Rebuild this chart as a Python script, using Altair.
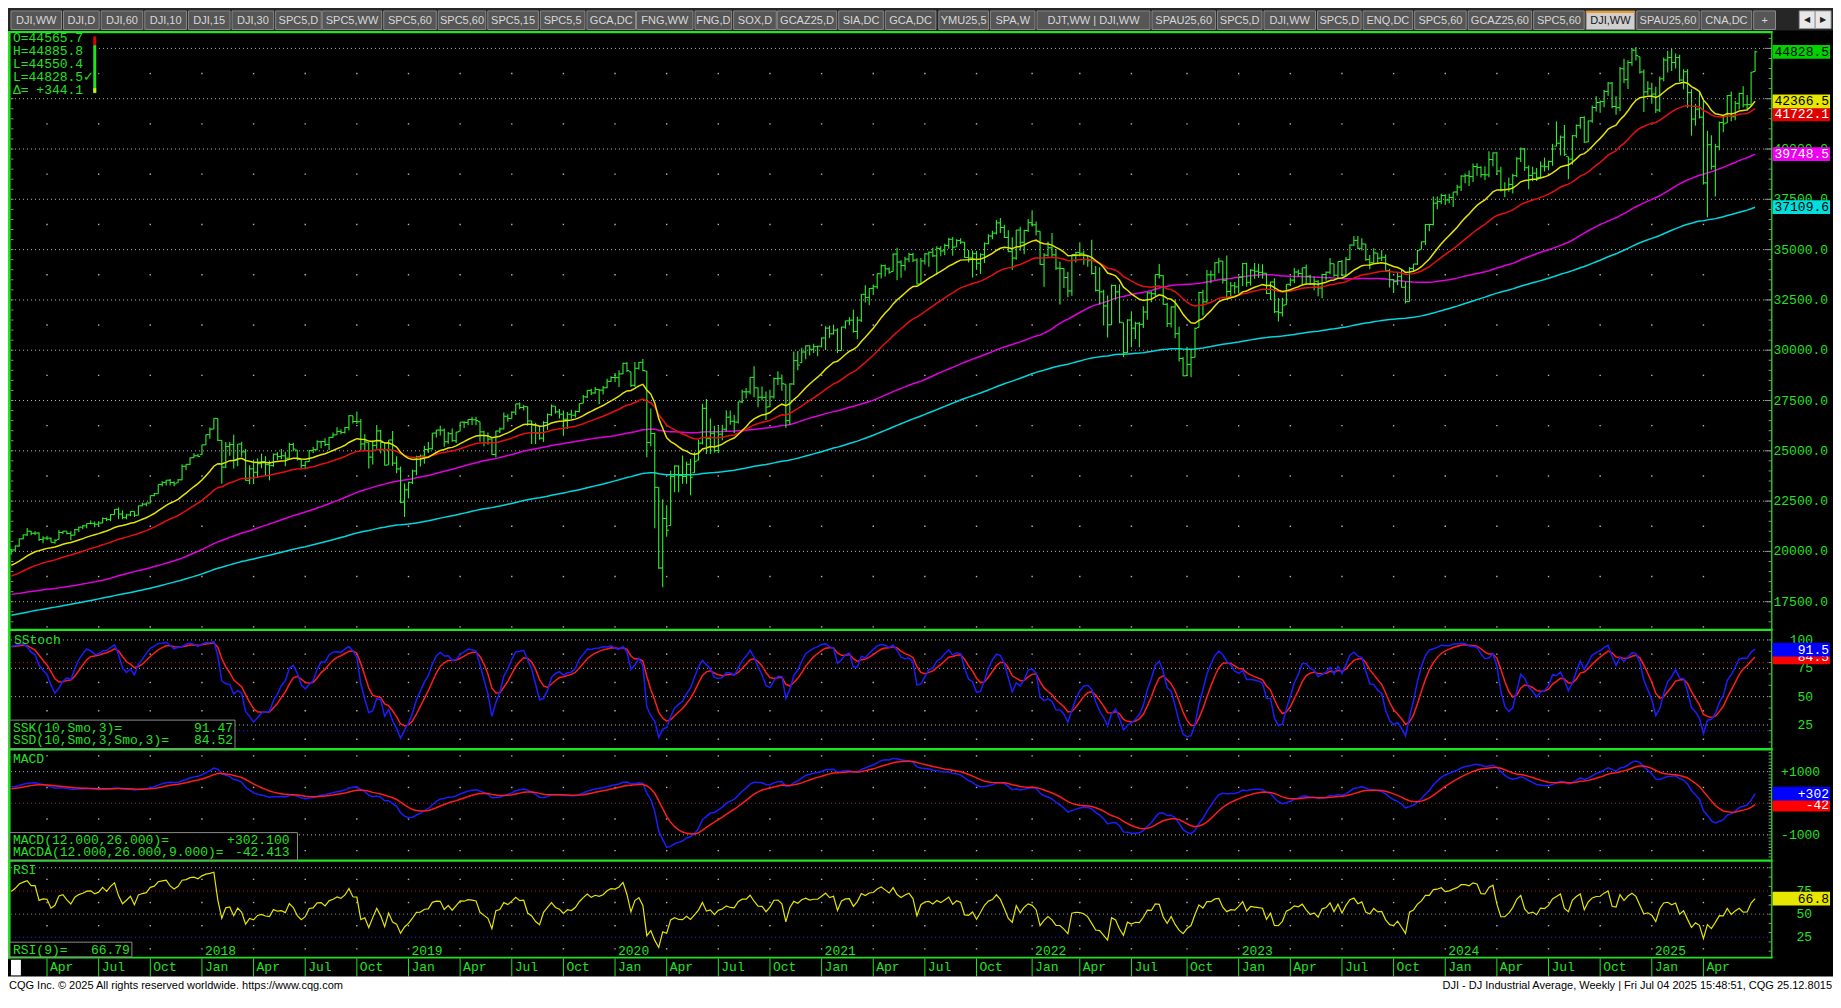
import altair as alt
import numpy as np
import pandas as pd

# =====================================================================
# DATA  (DJI weekly bars; values in index points)
# =====================================================================
# weekly closes before the first visible bar (only used to warm up averages)
PRE_START = "2015-01-02"
PRE_CLOSE = [
    17833, 17737, 17512, 17673, 17165, 17824, 18019, 18140, 18133, 17857, 17750, 18128, 17713,
    17763, 18058, 17826, 18080, 18024, 18191, 18272, 18232, 18011, 17849, 17899, 18016, 17947,
    17730, 17760, 18086, 17569, 17690, 17373, 17477, 16460, 16643, 16102, 16433, 16385, 16315,
    16472, 17084, 17216, 17647, 17664, 17910, 17245, 17824, 17798, 17848, 17265, 17128, 17552,
    17425, 16347, 15988, 16094, 16466, 16205, 15974, 16392, 16640, 17007, 17214, 17602, 17516,
    17793, 17577, 17898, 18004, 17774, 17740, 17535, 17501, 17873, 17807, 17866, 17675, 17400,
    17949, 18147, 18517, 18571, 18432, 18544, 18576, 18553, 18395, 18492, 18085, 18124, 18262,
    18308, 18240, 18138, 18146, 18161, 17888]

OHLC_START = "2016-11-11"
CLOSE_2016 = [18848, 18868, 19152, 19171, 19757, 19843, 19934, 19763]
HIGH_2016 = [18934, 18935, 19153, 19226, 19757, 19987, 19974, 19987]
LOW_2016 = [17884, 18771, 18870, 18972, 19167, 19712, 19843, 19719]

CLOSE_2017 = [19964, 19885, 19827, 20094, 20071, 20269, 20624, 20822, 21006, 20903, 20915, 20597, 20663,
              20656, 20453, 20548, 20941, 21007, 20897, 20805, 21080, 21206, 21272, 21384, 21395, 21350,
              21414, 21638, 21580, 21830, 22092, 21858, 21675, 21814, 21988, 21798, 22268, 22350, 22405,
              22773, 22871, 23329, 23434, 23539, 23422, 23358, 23558, 24231, 24329, 24652, 24754, 24719]
HIGH_2017 = [19999, 19974, 19893, 20126, 20125, 20298, 20639, 20840, 21169, 21017, 21001, 20940, 20757,
             20777, 20686, 20609, 21070, 21015, 21008, 21000, 21113, 21225, 21305, 21391, 21536, 21485,
             21500, 21682, 21681, 21843, 22092, 22179, 22040, 21872, 22000, 21990, 22275, 22419, 22416,
             22777, 22905, 23329, 23485, 23550, 23602, 23486, 23602, 24328, 24330, 24668, 24876, 24837]
LOW_2017 = [19775, 19769, 19732, 19731, 19831, 20020, 20237, 20603, 20764, 20803, 20812, 20518, 20412,
            20552, 20453, 20379, 20596, 20862, 20835, 20554, 20808, 20970, 21113, 21154, 21348, 21197,
            21279, 21394, 21510, 21500, 21831, 21600, 21600, 21600, 21753, 21709, 21800, 22241, 22240,
            22398, 22739, 22860, 23229, 23277, 23272, 23242, 23409, 23541, 24048, 24290, 24661, 24719]

CLOSE_2018 = [25296, 25803, 26072, 26617, 25521, 24191, 25220, 25310, 24538, 25336, 24947, 23533, 24103,
              23933, 24360, 24463, 24311, 24263, 24831, 24715, 24753, 24635, 25317, 25090, 24581, 24271,
              24456, 25019, 25058, 25451, 25463, 25313, 25669, 25790, 25965, 25917, 26155, 26744, 26458,
              26447, 25340, 25444, 24688, 25271, 25989, 25413, 24286, 25538, 24389, 24100, 22445, 23062]
HIGH_2018 = [25299, 25804, 26154, 26617, 26608, 25520, 25433, 25432, 25800, 25336, 25449, 25095, 24277,
             24562, 24622, 24858, 24736, 24511, 24869, 24925, 25086, 24950, 25402, 25402, 25040, 24580,
             24466, 25030, 25186, 25529, 25471, 25629, 25686, 25910, 26167, 26072, 26187, 26769, 26744,
             26951, 26587, 25829, 25419, 25531, 26277, 26036, 25412, 25539, 25980, 24730, 24220, 23382]
LOW_2018 = [24809, 25287, 25602, 26082, 25490, 23360, 24130, 24754, 24118, 24232, 24706, 23509, 23344,
            23345, 23649, 24131, 23778, 23531, 24203, 24535, 24577, 24227, 24627, 24983, 24524, 24084,
            24079, 24461, 24887, 25026, 25122, 25238, 25035, 25649, 25798, 25822, 25866, 26005, 26357,
            26338, 25042, 25044, 24123, 24320, 25104, 24872, 24268, 24302, 24242, 23881, 22397, 21713]

CLOSE_2019 = [23433, 23996, 24706, 24737, 25064, 25106, 25883, 26031, 26026, 25450, 25849, 25502, 25929,
              26425, 26412, 26559, 26543, 26505, 25942, 25764, 25586, 24815, 25984, 26090, 26719, 26600,
              26922, 27332, 27154, 27192, 26485, 26287, 25886, 25629, 26403, 26797, 27220, 26935, 26820,
              26573, 26817, 26770, 26958, 27347, 27681, 28005, 27876, 28051, 28015, 28135, 28455, 28645]
HIGH_2019 = [23466, 24061, 24750, 24816, 25250, 25439, 25887, 26052, 26242, 26110, 25940, 26109, 25949,
             26425, 26467, 26565, 26696, 26695, 26450, 26000, 25905, 25610, 26001, 26160, 26907, 26820,
             26966, 27333, 27398, 27278, 27198, 26500, 26400, 26219, 26479, 26859, 27306, 27218, 27080,
             27000, 26935, 27040, 27001, 27348, 27775, 28005, 28090, 28175, 28070, 28224, 28582, 28701]
LOW_2019 = [22638, 23347, 23781, 24218, 24356, 24886, 25057, 25656, 25764, 25208, 25350, 25452, 25383,
            25968, 26139, 26266, 26287, 26271, 25450, 25222, 25307, 24802, 24680, 25887, 26064, 26440,
            26597, 26780, 27061, 27003, 26249, 25339, 25339, 25550, 25440, 26039, 26725, 26849, 26600,
            25743, 26078, 26590, 26660, 26899, 27369, 27625, 27778, 27835, 27325, 27795, 28111, 28428]

CLOSE_2020 = [28634, 28823, 29348, 28990, 28256, 29102, 29398, 28992, 25409, 25864, 23186, 19174, 21637,
              21053, 23720, 24242, 23775, 23724, 24331, 23685, 24465, 25383, 27111, 25606, 25871, 25016,
              25827, 26075, 26672, 26470, 26428, 27433, 27931, 27930, 28654, 28133, 27666, 27657, 27174,
              27683, 28587, 28606, 28336, 26502, 28323, 29480, 29263, 29910, 30218, 30046, 30179, 30200]
HIGH_2020 = [28873, 29009, 29373, 29407, 28930, 29408, 29416, 29568, 28962, 27102, 25897, 23185, 22595,
             22294, 24008, 24283, 24264, 24765, 24460, 24602, 24933, 25559, 27338, 27580, 26611, 26248,
             26204, 26291, 27017, 27009, 26776, 27438, 28030, 28121, 28655, 29199, 28130, 28195, 27942,
             28041, 28638, 28958, 28787, 28313, 28354, 29933, 29962, 30117, 30233, 30241, 30326, 30225]
LOW_2020 = [28419, 28174, 28810, 28917, 28170, 28169, 29046, 28951, 24681, 25226, 21154, 19139, 18214,
            20735, 21285, 22942, 22941, 23358, 23362, 22790, 23910, 24536, 25314, 24844, 24843, 24910,
            24878, 25523, 25954, 26299, 25880, 26353, 27360, 27603, 27813, 27665, 27164, 27507, 26537,
            27190, 27604, 28274, 27989, 26143, 26277, 28276, 29008, 29380, 29557, 29740, 29863, 29700]

CLOSE_2021 = [30606, 31098, 30814, 30997, 29983, 31148, 31458, 31494, 30932, 31496, 32779, 32628, 33073,
              33153, 33801, 34200, 34043, 33875, 34778, 34382, 34208, 34529, 34756, 34480, 33290, 34434,
              34786, 34870, 34688, 35062, 34935, 35209, 35515, 35120, 35456, 35369, 34608, 34584, 34798,
              34326, 34746, 35295, 35677, 35820, 36328, 36100, 35602, 34899, 34580, 35971, 35365, 35950,
              36338]
HIGH_2021 = [30637, 31194, 31223, 31272, 31088, 31170, 31470, 31644, 32010, 31668, 32793, 33227, 33097,
             33262, 33810, 34256, 34262, 34111, 34811, 35092, 34465, 34631, 34849, 34849, 34576, 34581,
             34823, 34900, 35091, 35172, 35171, 35289, 35579, 35631, 35510, 35565, 35380, 34978, 34950,
             34935, 34828, 35356, 35765, 35933, 36472, 36565, 36232, 35967, 35618, 35978, 36134, 35987,
             36527]
LOW_2021 = [30136, 30016, 30613, 30778, 29857, 29985, 31061, 31235, 30869, 30547, 31403, 32367, 32240,
            32738, 33058, 33566, 33660, 33800, 33915, 33474, 33597, 33962, 34376, 34380, 33271, 33260,
            34259, 34146, 34628, 33741, 34667, 34723, 35047, 34690, 35137, 35280, 34597, 34356, 33613,
            33994, 33785, 34337, 35261, 35515, 35753, 35827, 35580, 34866, 33982, 34492, 34948, 34773,
            35879]

CLOSE_2022 = [36231, 35912, 34265, 34725, 35089, 34738, 34079, 34059, 33614, 32944, 34755, 34862, 34818,
              34721, 34451, 33811, 32977, 32899, 32197, 31262, 33213, 32900, 31393, 29889, 31501, 31097,
              31338, 31288, 31899, 32845, 32803, 33761, 33706, 32283, 31318, 32151, 30822, 29590, 28725,
              29297, 29635, 31083, 32862, 32403, 33748, 33746, 34347, 34430, 33477, 32920, 33204, 33147]
HIGH_2022 = [36953, 36396, 35917, 34824, 35406, 35824, 35014, 34397, 34075, 33904, 34762, 34892, 35372,
             34944, 34695, 35493, 34190, 34118, 33007, 32717, 33262, 33250, 33272, 31364, 31537, 31941,
             31410, 31408, 32180, 32910, 32928, 33765, 34281, 33726, 32365, 32181, 32509, 31166, 29647,
             30175, 30039, 31125, 32901, 33000, 33987, 33963, 34363, 34596, 34428, 34712, 33396, 33387]
LOW_2022 = [36144, 35697, 34244, 33150, 34656, 34651, 33988, 32272, 33094, 32632, 32710, 34361, 34655,
            34243, 34147, 33769, 32914, 32273, 31228, 30636, 31253, 32510, 31343, 29653, 29871, 30143,
            30552, 30143, 31107, 31508, 32380, 32696, 33568, 32254, 31155, 31124, 30594, 29439, 28715,
            28734, 28660, 29651, 31130, 31727, 32358, 33322, 33507, 33820, 33308, 32573, 32581, 32812]

CLOSE_2023 = [33631, 34303, 33375, 33978, 33926, 33870, 33827, 32817, 33391, 31910, 31862, 32238, 33274,
              33485, 33886, 33809, 34098, 33675, 33301, 33427, 33093, 33763, 33877, 34299, 33727, 34408,
              33734, 34509, 35228, 35460, 35066, 35281, 34500, 34347, 34838, 34577, 34618, 33964, 33508,
              33408, 33670, 33127, 32418, 34061, 34283, 34947, 35390, 36246, 36248, 37306, 37386, 37690]
HIGH_2023 = [33657, 34336, 34350, 34042, 34335, 34301, 34277, 33833, 33405, 33573, 32600, 32610, 33281,
             33620, 34082, 34009, 34099, 34257, 33756, 33650, 33476, 33796, 33914, 34589, 34296, 34411,
             34484, 34630, 35248, 35679, 35679, 35560, 35276, 34738, 35070, 34821, 34986, 34751, 34051,
             33539, 33887, 34010, 33412, 34130, 34289, 34996, 35396, 36276, 36284, 37640, 37641, 37778]
LOW_2023 = [32813, 33191, 33151, 33215, 33549, 33597, 33555, 32788, 32500, 31850, 31429, 31681, 32256,
            33187, 33327, 33653, 33235, 33265, 33241, 32982, 32687, 32586, 33453, 33781, 33648, 33626,
            33675, 33701, 34468, 35189, 35012, 34956, 34451, 34029, 34342, 34345, 34436, 33920, 33123,
            32847, 33223, 33118, 32327, 32417, 33897, 34239, 35013, 35229, 35914, 36193, 37006, 37253]

CLOSE_2024 = [37466, 37593, 37863, 38109, 38654, 38672, 38628, 39131, 39087, 38723, 38715, 39476, 39807,
              38904, 37983, 37986, 38240, 38676, 39513, 40004, 39070, 38686, 38799, 38589, 39150, 39119,
              39376, 40001, 40288, 40590, 39737, 39498, 40660, 41175, 41563, 40345, 41394, 42063, 42313,
              42353, 42864, 43276, 42114, 42052, 43989, 43445, 44297, 44911, 44643, 43828, 42840, 42992]
HIGH_2024 = [37748, 37781, 37864, 38218, 38699, 38783, 38928, 39282, 39286, 39149, 39139, 39889, 39825,
             39841, 39123, 38346, 38585, 38766, 39602, 40077, 40051, 39176, 39120, 39054, 39376, 39572,
             39419, 40257, 41376, 40675, 41199, 39621, 40692, 41224, 41585, 41622, 41419, 42160, 42628,
             42409, 42934, 43325, 43325, 42628, 44082, 44486, 44408, 45017, 45074, 44587, 43947, 43370]
LOW_2024 = [37213, 37302, 37122, 37686, 37919, 38296, 38165, 38365, 38665, 38583, 38465, 38592, 39141,
            38716, 37892, 37612, 37873, 37787, 38596, 39349, 38903, 38001, 38402, 38406, 38548, 38882,
            38946, 39166, 40141, 39674, 39654, 38499, 39221, 40545, 41004, 40313, 40351, 41302, 41862,
            41803, 42081, 42648, 42021, 41704, 41882, 43283, 42986, 44133, 44396, 43736, 41844, 42689]

CLOSE_2025 = [42732, 41938, 43488, 44424, 44545, 44303, 44546, 43428, 43841, 42802, 41488, 41985, 41583,
              38315, 40213, 39142, 40114, 41317, 41249, 42655, 41603, 42270, 42763, 42197, 42207, 43819,
              44828]
HIGH_2025 = [43293, 43100, 43604, 44545, 44883, 44968, 44748, 44689, 43964, 43969, 42969, 42242, 42821,
             42392, 40909, 40680, 40263, 41370, 41694, 42689, 42859, 42404, 42798, 43114, 42689, 43822,
             44886]
LOW_2025 = [42248, 41795, 41844, 43370, 43805, 43880, 44001, 43340, 42957, 42044, 40662, 41162, 41516,
            38242, 36611, 38963, 37645, 39934, 40832, 41292, 41376, 41434, 41958, 42063, 41920, 42140,
            43850]

CYAN_START = 16830          # long average at the first visible bar

# texts
TAB_LABELS = ["DJI,WW", "DJI,D", "DJI,60", "DJI,10", "DJI,15", "DJI,30", "SPC5,D", "SPC5,WW", "SPC5,60",
              "SPC5,60", "SPC5,15", "SPC5,5", "GCA,DC", "FNG,WW", "FNG,D", "SOX,D", "GCAZ25,D", "SIA,DC",
              "GCA,DC", "YMU25,5", "SPA,W", "DJT,WW  |  DJI,WW", "SPAU25,60", "SPC5,D", "DJI,WW", "SPC5,D",
              "ENQ,DC", "SPC5,60", "GCAZ25,60", "SPC5,60", "DJI,WW", "SPAU25,60", "CNA,DC", "+"]
ACTIVE_TAB = 30
READOUT = ["O=44565.7", "H=44885.8", "L=44550.4", "L=44828.5\u2713", "\u0394= +344.1"]
PRICE_TICKS = [17500, 20000, 22500, 25000, 27500, 30000, 32500, 35000, 37500, 40000, 42500, 45000]
PRICE_LABELS = [17500, 20000, 22500, 25000, 27500, 30000, 32500, 35000, 37500, 40000]
PRICE_BOXES = [(37109.6, "37109.6", "#00dede", "#000000"), (39748.5, "39748.5", "#f000f0", "#ffffff"),
               (41722.1, "41722.1", "#e00000", "#ffffff"), (42366.5, "42366.5", "#e6e600", "#000000"),
               (44828.5, "44828.5", "#00d200", "#000000")]
STOCH_BOXES = [(84.52, "84.5", "#ff0000", "#ffffff"), (91.47, "91.5", "#0000ff", "#ffffff")]
MACD_BOXES = [(-42.413, "-42", "#ff0000", "#ffffff"), (302.1, "+302", "#0000ff", "#ffffff")]
RSI_BOXES = [(66.79, "66.8", "#e6e600", "#000000")]
FOOT_LEFT = "CQG Inc. \u00a9 2025 All rights reserved worldwide. https://www.cqg.com"
FOOT_RIGHT = "DJI - DJ Industrial Average, Weekly | Fri Jul 04 2025 15:48:51, CQG 25.12.8015"

# =====================================================================
# FRAME (reference pixel layout scaled into the page)
# =====================================================================
W, H = 1825, 986
SX, SY = W / 1841.0, H / 1008.0
def X(v): return v * SX
def Y(v): return v * SY

MONO = "Liberation Mono"
SANS = "Liberation Sans, Arial, sans-serif"
G_LINE = "#1fe41f"
G_BAR = "#2ef02e"
G_TXT = "#22e222"
GRID = "#b4b4b4"

ANCHOR = pd.Timestamp("2025-04-04")
T_FIRST = -2982   # 2017-02-03

# =====================================================================
# INDICATORS
# =====================================================================
CLOSE = CLOSE_2016 + CLOSE_2017 + CLOSE_2018 + CLOSE_2019 + CLOSE_2020 + CLOSE_2021 + CLOSE_2022 + CLOSE_2023 + CLOSE_2024 + CLOSE_2025
HIGH = HIGH_2016 + HIGH_2017 + HIGH_2018 + HIGH_2019 + HIGH_2020 + HIGH_2021 + HIGH_2022 + HIGH_2023 + HIGH_2024 + HIGH_2025
LOW = LOW_2016 + LOW_2017 + LOW_2018 + LOW_2019 + LOW_2020 + LOW_2021 + LOW_2022 + LOW_2023 + LOW_2024 + LOW_2025

pre = pd.DataFrame({"date": pd.date_range(PRE_START, periods=len(PRE_CLOSE), freq="W-FRI"),
                    "close": PRE_CLOSE, "high": np.nan, "low": np.nan})
wk = pd.DataFrame({"date": pd.date_range(OHLC_START, periods=len(CLOSE), freq="W-FRI"),
                   "close": CLOSE, "high": HIGH, "low": LOW})
full = pd.concat([pre, wk], ignore_index=True)
full["t"] = (full["date"] - ANCHOR).dt.days
c = full["close"].astype(float)
full["ma_y"] = c.ewm(span=20, adjust=False).mean()
full["ma_r"] = c.ewm(span=40, adjust=False).mean()
full["ma_m"] = c.rolling(100).mean()
full["prev"] = c.shift(1)
macd = c.ewm(span=12, adjust=False).mean() - c.ewm(span=26, adjust=False).mean()
full["macd"] = macd
full["macda"] = macd.ewm(span=9, adjust=False).mean()
dlt = c.diff()
up = dlt.clip(lower=0).ewm(alpha=1 / 9, adjust=False).mean()
dn = (-dlt.clip(upper=0)).ewm(alpha=1 / 9, adjust=False).mean()
full["rsi"] = 100 - 100 / (1 + up / dn)
ll = full["low"].rolling(10).min()
hh = full["high"].rolling(10).max()
num = (c - ll).ewm(alpha=1 / 3, adjust=False).mean()
den = (hh - ll).ewm(alpha=1 / 3, adjust=False).mean()
full["ssk"] = 100 * num / den
full["ssd"] = full["ssk"].ewm(alpha=1 / 3, adjust=False).mean()

vis = full[full["t"] >= T_FIRST].reset_index(drop=True).copy()
cy, e = [], float(CYAN_START)
for i, v in enumerate(vis["close"]):
    if i > 0:
        e = e + (2 / 201) * (v - e)
    cy.append(e)
vis["ma_c"] = cy
vis["open"] = np.clip(vis["prev"], vis["low"], vis["high"])
vis = vis.drop(columns=["date"])

# quarter ticks
quarters = []
for yr in range(2017, 2026):
    for m, nm in [(1, "Jan"), (4, "Apr"), (7, "Jul"), (10, "Oct")]:
        d0 = pd.Timestamp(yr, m, 1)
        d0 = d0 + pd.Timedelta(days=(4 - d0.weekday()) % 7)
        t = (d0 - ANCHOR).days
        if T_FIRST <= t <= 0:
            quarters.append((t, nm, str(yr) if m == 1 else ""))
qdf = pd.DataFrame(quarters, columns=["t", "m", "yr"])

# =====================================================================
# SCALES
# =====================================================================
XS = alt.Scale(domain=[T_FIRST, 0], range=[X(3.3), X(1710.3)], nice=False, zero=False)
PY = alt.Scale(domain=[16137, 45647], range=[Y(635), Y(28)], nice=False, zero=False)
STY = alt.Scale(domain=[4.3, 107.8], range=[Y(757), Y(637)], nice=False, zero=False)
MY = alt.Scale(domain=[-1765, 1672], range=[Y(870), Y(759)], nice=False, zero=False)
RY = alt.Scale(domain=[3.9, 106.3], range=[Y(970), Y(873)], nice=False, zero=False)

def xq(f="t"):
    return alt.X(f + ":Q", scale=XS, axis=None)

def yq(f, s):
    return alt.Y(f + ":Q", scale=s, axis=None)

def prect(rows, **mk):
    df = pd.DataFrame(rows, columns=["x", "y", "x2", "y2", "c"])
    df["x"] *= SX; df["x2"] *= SX; df["y"] *= SY; df["y2"] *= SY
    return alt.Chart(df).mark_rect(**mk).encode(
        x=alt.X("x:Q", scale=None, axis=None), x2="x2:Q",
        y=alt.Y("y:Q", scale=None, axis=None), y2="y2:Q",
        color=alt.Color("c:N", scale=None, legend=None))

def ptext(rows, **mk):
    df = pd.DataFrame(rows, columns=["x", "y", "s", "c"])
    df["x"] *= SX; df["y"] *= SY
    return alt.Chart(df).mark_text(baseline="middle", **mk).encode(
        x=alt.X("x:Q", scale=None, axis=None), y=alt.Y("y:Q", scale=None, axis=None),
        text="s:N", color=alt.Color("c:N", scale=None, legend=None))

def hlines(values, s, color, dash=(1, 3)):
    return alt.Chart(pd.DataFrame({"v": values})).mark_rule(
        color=color, strokeWidth=1, strokeDash=list(dash)).encode(
        x=alt.value(X(3)), x2=alt.value(X(1778)), y=yq("v", s))

def vdots(levels, s):
    df = pd.DataFrame([(t, v) for t in qdf["t"] for v in levels], columns=["t", "v"])
    return alt.Chart(df).mark_square(size=2, color=GRID, opacity=1).encode(x=xq(), y=yq("v", s))

def eticks(values, s, x0, x1, color="#8e8e8e"):
    return alt.Chart(pd.DataFrame({"v": values})).mark_rule(color=color, strokeWidth=1).encode(
        x=alt.value(X(x0)), x2=alt.value(X(x1)), y=yq("v", s))

def line(f, s, color, w=1.5):
    return alt.Chart(vis).mark_line(color=color, strokeWidth=w).encode(x=xq(), y=yq(f, s))

def vlabels(rows, s, x, align):
    return alt.Chart(pd.DataFrame(rows, columns=["v", "s"])).mark_text(
        align=align, baseline="middle", font=MONO, fontSize=13, color=G_TXT).encode(
        x=alt.value(X(x)), y=yq("v", s), text="s:N")

def vboxes(rows, s):
    out = []
    for v, lab, fill, tc in rows:
        df = pd.DataFrame({"v": [v], "s": [lab]})
        out.append(alt.Chart(df).mark_tick(orient="horizontal", size=X(58), thickness=Y(14),
                                           color=fill, opacity=1).encode(x=alt.value(X(1809)), y=yq("v", s)))
        out.append(alt.Chart(df).mark_text(align="right", baseline="middle", font=MONO, fontSize=13,
                                           color=tc).encode(x=alt.value(X(1837)), y=yq("v", s), text="s:N"))
    return out

L = []
# ---------------- tab bar ----------------
L.append(prect([(0, 0, 1841, 23, "#262626")]))
tab_edges = [(3, 54), (56, 92), (94, 136), (138, 180), (182, 224), (226, 268), (270, 316), (317, 377),
             (379, 432), (434, 482), (484, 535), (537, 582), (584, 633), (634, 691), (693, 730), (732, 775),
             (776, 836), (838, 883), (885, 936), (939, 989), (991, 1036), (1038, 1152), (1154, 1218),
             (1220, 1265), (1267, 1319), (1321, 1365), (1367, 1417), (1419, 1471), (1473, 1537),
             (1539, 1590), (1592, 1641), (1643, 1706), (1708, 1759), (1761, 1783)]
L.append(prect([(a, 3, b, 22, "#cfcfcf" if i == ACTIVE_TAB else "#565656")
                for i, (a, b) in enumerate(tab_edges)], stroke="#8a8a8a", strokeWidth=1))
L.append(prect([(tab_edges[ACTIVE_TAB][0], 3, tab_edges[ACTIVE_TAB][1], 5, "#f29a1f")]))
L.append(ptext([((a + b) / 2, 12.8, TAB_LABELS[i], "#151515" if i == ACTIVE_TAB else "#d8d8d8")
                for i, (a, b) in enumerate(tab_edges)], align="center", font=SANS, fontSize=11))
L.append(prect([(1807, 3, 1823, 21, "#e8e8e8"), (1823, 3, 1839, 21, "#e8e8e8")],
               stroke="#9a9a9a", strokeWidth=1))
L.append(ptext([(1815, 12, "\u25c0", "#202020"), (1831, 12, "\u25b6", "#202020")],
               align="center", fontSize=8))

# ---------------- grids ----------------
L.append(hlines(PRICE_TICKS, PY, GRID))
L.append(vdots([v + 1250 for v in range(15000, 45000, 2500) if 16137 < v + 1250 < 45647], PY))
L.append(hlines([25, 50, 75, 100], STY, GRID))
L.append(hlines([80], STY, "#c01010"))
L.append(hlines([20], STY, "#2626e0"))
L.append(vdots([12.5, 37.5, 62.5, 87.5], STY))
L.append(hlines([1000, -1000], MY, GRID))
L.append(hlines([0], MY, "#a03030"))
L.append(vdots([-1500, -500, 500, 1500], MY))
L.append(hlines([100], RY, GRID))
L.append(hlines([75], RY, "#c01010"))
L.append(hlines([50], RY, "#8a8a8a"))
L.append(hlines([25], RY, "#2626e0"))
L.append(vdots([12.5, 37.5, 62.5, 87.5], RY))

# edge ticks
L.append(eticks(list(range(16500, 45501, 500)), PY, 1776, 1779))
L.append(eticks(PRICE_TICKS, PY, 1772, 1779))
L.append(eticks(list(range(16500, 45501, 500)), PY, 3, 5.5))
L.append(eticks(list(range(10, 101, 10)), STY, 1776, 1779))
L.append(eticks(list(range(-1700, 1601, 100)), MY, 1776, 1779))
L.append(eticks(list(range(10, 101, 10)), RY, 1776, 1779))

# ---------------- price panel ----------------
L.append(line("ma_c", PY, "#00d6de"))
L.append(line("ma_m", PY, "#e000e0"))
L.append(alt.Chart(vis).mark_rule(color=G_BAR, strokeWidth=1.1).encode(x=xq(), y=yq("low", PY), y2="high:Q"))
L.append(alt.Chart(vis).mark_tick(orient="horizontal", size=2.2, thickness=1, xOffset=-1.1,
                                  color=G_BAR, opacity=1).encode(x=xq(), y=yq("open", PY)))
L.append(alt.Chart(vis).mark_tick(orient="horizontal", size=2.2, thickness=1, xOffset=1.1,
                                  color=G_BAR, opacity=1).encode(x=xq(), y=yq("close", PY)))
L.append(line("ma_r", PY, "#e41010"))
L.append(line("ma_y", PY, "#e4e400"))

# ---------------- indicator panels ----------------
L.append(line("ssd", STY, "#ff1c1c"))
L.append(line("ssk", STY, "#1c1cff"))
L.append(line("macd", MY, "#1c1cff"))
L.append(line("macda", MY, "#ff1c1c"))
L.append(line("rsi", RY, "#e4e400", 1.2))

# ---------------- frame lines ----------------
L.append(prect([(0, 23.5, 1780, 25.7, G_LINE), (0, 634.6, 1780, 637, G_LINE), (0, 756.6, 1780, 759, G_LINE),
                (0, 870.4, 1780, 872.8, G_LINE), (0, 969.8, 1780, 971.6, G_LINE),
                (0, 23.5, 2.6, 971.6, G_LINE), (1778.6, 23.5, 1779.9, 971.6, G_LINE)]))

# ---------------- read-outs and legends ----------------
L.append(prect([(3, 26, 91, 90, "#000000")]))
L.append(ptext([(5, 31 + 13.1 * i, s, G_TXT) for i, s in enumerate(READOUT)], align="left", font=MONO, fontSize=13))
L.append(prect([(86, 29, 89, 38, "#e00000"), (86, 38, 89, 87, G_LINE), (86, 82, 89, 86.5, "#e8e800")]))
L.append(ptext([(6, 645.7, "SStoch", G_TXT), (5, 768, "MACD", G_TXT), (5, 881.7, "RSI", G_TXT)],
               align="left", font=MONO, fontSize=13))
L.append(prect([(2, 728, 229, 757, "#000000"), (2, 843, 292, 871, "#000000"), (2, 955, 125, 970, "#000000")],
               stroke="#8a8a8a", strokeWidth=1))
L.append(ptext([(5, 736, "SSK(10,Smo,3)=", G_TXT), (5, 748.3, "SSD(10,Smo,3,Smo,3)=", G_TXT),
                (5, 850.7, "MACD(12.000,26.000)=", G_TXT), (5, 862.7, "MACDA(12.000,26.000,9.000)=", G_TXT),
                (5, 962.7, "RSI(9)=", G_TXT)], align="left", font=MONO, fontSize=13))
L.append(ptext([(227, 736, "91.47", G_TXT), (227, 748.3, "84.52", G_TXT), (284, 850.7, "+302.100", G_TXT),
                (284, 862.7, "-42.413", G_TXT), (123, 962.7, "66.79", G_TXT)], align="right", font=MONO, fontSize=13))

# ---------------- right value axis ----------------
L.append(vlabels([(v, "%d.0" % v) for v in PRICE_LABELS], PY, 1781, "left"))
L.append(vlabels([(100, "100"), (75, "75"), (50, "50"), (25, "25")], STY, 1821, "right"))
L.append(vlabels([(1000, "+1000"), (-1000, "-1000")], MY, 1828, "right"))
L.append(vlabels([(75, "75"), (50, "50"), (25, "25")], RY, 1820, "right"))
L += vboxes(PRICE_BOXES, PY)
L += vboxes(STOCH_BOXES, STY)
L += vboxes(MACD_BOXES, MY)
L += vboxes(RSI_BOXES, RY)

# ---------------- date axis ----------------
L.append(alt.Chart(qdf).mark_rule(color=G_LINE, strokeWidth=1).encode(
    x=xq(), y=alt.value(Y(971.6)), y2=alt.value(Y(990))))
L.append(alt.Chart(qdf).mark_text(align="left", baseline="middle", dx=X(3), font=MONO, fontSize=13,
                                  color=G_TXT).encode(x=xq(), y=alt.value(Y(980.5)), text="m:N"))
L.append(alt.Chart(qdf[qdf["yr"] != ""]).mark_text(align="left", baseline="middle", dx=X(3), font=MONO,
                                                   fontSize=13, color=G_TXT).encode(
    x=xq(), y=alt.value(Y(964)), text="yr:N"))
L.append(prect([(3, 973, 13, 989, "#ffffff")]))

# ---------------- status bar ----------------
L.append(prect([(0, 990, 1841, 1008, "#ffffff")]))
L.append(ptext([(1, 999.5, FOOT_LEFT, "#000000")], align="left", font=SANS, fontSize=11))
L.append(ptext([(1840, 999.5, FOOT_RIGHT, "#000000")], align="right", font=SANS, fontSize=11))

chart = alt.layer(*L).resolve_scale(x="independent", y="independent", color="independent").properties(
    width=W, height=H, padding=0, autosize=alt.AutoSizeParams(type="none"), background="#000000"
).configure_view(strokeWidth=0)

chart.save("out.html", embed_options={"renderer": "svg", "actions": False})
